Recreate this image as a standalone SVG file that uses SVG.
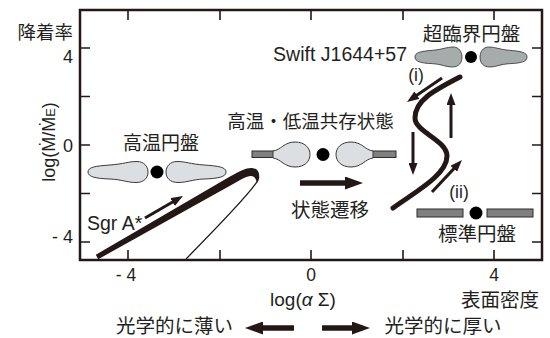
<svg xmlns="http://www.w3.org/2000/svg" xmlns:xlink="http://www.w3.org/1999/xlink" width="550" height="338" viewBox="0 0 550 338">
  <style>
    .frame { fill: none; stroke: #231815; stroke-width: 2.5; }
    .tick { stroke: #231815; stroke-width: 1.6; }
    .lat { font-family: "Liberation Sans", "Noto Sans CJK JP", sans-serif; fill: #231f20; }
    .jp { font-family: "Noto Sans CJK JP", "Liberation Sans", sans-serif; fill: #231f20; }
    .hot { fill: #dcdfe1; stroke: #3a3a3a; stroke-width: 1; }
    .super { fill: #a6abab; stroke: #3a3a3a; stroke-width: 1; }
    .bar { fill: #808080; stroke: #2b2b2b; stroke-width: 1; }
    .bh { fill: #000; }
    .thick { fill: none; stroke: #231815; stroke-width: 5; stroke-linecap: round; }
    .thin { fill: none; stroke: #231815; stroke-width: 1.3; }
    .arr { fill: none; stroke: #231815; stroke-width: 3; marker-end: url(#head); }
    .arrBig { fill: none; stroke: #231815; stroke-width: 5.5; marker-end: url(#headBig); }
  </style>
  <defs>
    <!-- teardrop cloud: tip at x=0, bulb end at x=60 -->
    <path id="tear" d="M0,0 C0,-5 8,-6 22,-7 C36,-8 40,-10.5 49,-10.5 C56,-10.5 60,-5.5 60,0 C60,6 56,10.5 48,10.5 C39,10.5 34,7.5 22,7 C8,6.5 0,5 0,0 Z"/>
    <!-- bulb attached to a thin outer disk: neck at x=0, round end at x=37 -->
    <path id="bulb" d="M0,-3.5 C8,-4.5 11,-12.5 22,-12.5 C32,-12.5 37,-6.5 37,0 C37,6.5 32,12.5 22,12.5 C11,12.5 8,4.5 0,3.5 Z"/>
    <marker id="head" markerUnits="userSpaceOnUse" markerWidth="12" markerHeight="9" refX="5" refY="4.5" orient="auto">
      <path d="M0,0 L12,4.5 L0,9 Z" fill="#231815"/>
    </marker>
    <marker id="headBig" markerUnits="userSpaceOnUse" markerWidth="18" markerHeight="13" refX="4" refY="6.5" orient="auto">
      <path d="M0,0 L18,6.5 L0,13 Z" fill="#231815"/>
    </marker>
  </defs>

  <!-- plot frame and ticks -->
  <g id="axes">
    <rect class="frame" x="80" y="10" width="462" height="250"/>
    <path class="tick" d="M80,48 H90 M80,96.5 H90 M80,145 H90 M80,193.5 H90 M80,242 H90
                          M542,48 H532 M542,96.5 H532 M542,145 H532 M542,193.5 H532 M542,242 H532
                          M128,10 V20 M220,10 V20 M311,10 V20 M403,10 V20 M494,10 V20
                          M128,260 V250 M220,260 V250 M311,260 V250 M403,260 V250 M494,260 V250"/>
    <text class="jp" x="73" y="39" font-size="18.5" text-anchor="end">降着率</text>
    <text class="lat" x="73" y="63" font-size="18" text-anchor="end">4</text>
    <text class="lat" x="73" y="152" font-size="18" text-anchor="end">0</text>
    <text class="lat" x="73" y="243" font-size="18" text-anchor="end">- 4</text>
    <text class="lat" transform="translate(55,142) rotate(-90)" font-size="18" text-anchor="middle">log(Ṁ/Ṁ<tspan font-size="13">E</tspan>)</text>
    <text class="lat" x="126" y="281" font-size="17.5" text-anchor="middle">- 4</text>
    <text class="lat" x="311" y="281" font-size="17.5" text-anchor="middle">0</text>
    <text class="lat" x="494" y="281" font-size="17.5" text-anchor="middle">4</text>
    <text class="lat" x="303" y="306" font-size="19" text-anchor="middle">log(<tspan font-style="italic">α</tspan> Σ)</text>
    <text class="jp" x="500" y="307" font-size="19.5" text-anchor="middle">表面密度</text>
  </g>

  <!-- hot accretion flow -->
  <g id="disk-hot">
    <text class="jp" x="161" y="150" font-size="19" text-anchor="middle">高温円盤</text>
    <use href="#tear" class="hot" transform="translate(88,172)"/>
    <use href="#tear" class="hot" transform="translate(226,172) scale(-1,1)"/>
    <circle class="bh" cx="157" cy="172" r="6.5"/>
  </g>

  <!-- hot and cold coexisting -->
  <g id="disk-coexist">
    <text class="jp" x="310.5" y="128" font-size="18.5" text-anchor="middle">高温・低温共存状態</text>
    <rect class="bar" x="252" y="151" width="22" height="6.5"/>
    <rect class="bar" x="372" y="151" width="24" height="6.5"/>
    <use href="#bulb" class="hot" transform="translate(273,154.5)"/>
    <use href="#bulb" class="hot" transform="translate(373,154.5) scale(-1,1)"/>
    <circle class="bh" cx="323" cy="154.5" r="6.5"/>
  </g>

  <!-- supercritical disk -->
  <g id="disk-super">
    <text class="jp" x="471.5" y="40.5" font-size="19.5" text-anchor="middle">超臨界円盤</text>
    <text class="lat" x="407" y="61" font-size="19.5" text-anchor="end">Swift J1644+57</text>
    <use href="#tear" class="super" vector-effect="non-scaling-stroke" transform="translate(415,57) scale(0.783,0.95)"/>
    <use href="#tear" class="super" vector-effect="non-scaling-stroke" transform="translate(527,57) scale(-0.783,0.95)"/>
    <circle class="bh" cx="471" cy="57" r="6"/>
  </g>

  <!-- standard thin disk -->
  <g id="disk-standard">
    <rect class="bar" x="417" y="209" width="46" height="8"/>
    <rect class="bar" x="487" y="209" width="46" height="8"/>
    <circle class="bh" cx="476" cy="213" r="6.5"/>
    <text class="jp" x="477" y="241" font-size="19.5" text-anchor="middle">標準円盤</text>
  </g>

  <!-- equilibrium curves and transition arrows -->
  <g id="connectors">
    <path d="M95.8,254.8 L230,176.5 C240,171 247,167.5 252,168 C258,168.5 260,173 259,179 L257,183 C256,178 254,175.5 250,176 C245,177 240,180 234,183.5 L98.2,259.2 Z" fill="#231815"/>
    <path class="thin" d="M258,180 Q252,192 186,259"/>
    <path class="thick" d="M460,77 C435,90 415,100 415,118 C415,132 447,140 447,156 C447,175 415,192 393,208"/>
    <path class="arr" d="M145,218 L176.9,199.5"/>
    <path class="arr" d="M442,78 L412.8,98"/>
    <path class="arr" d="M451,138 L451,100"/>
    <path class="arr" d="M413,132 L413,168"/>
    <path class="arr" d="M432,192 L457.2,165.1"/>
    <path class="arrBig" d="M300,183 L349,183"/>
    <path class="arrBig" d="M294,328 L259,328"/>
    <path class="arrBig" d="M322,328 L356,328"/>
  </g>

  <!-- annotations -->
  <g id="labels">
    <text class="lat" x="87" y="230" font-size="19.5">Sgr A*</text>
    <text class="lat" x="416" y="81" font-size="17.5" text-anchor="middle">(i)</text>
    <text class="lat" x="459" y="198" font-size="17.5" text-anchor="middle">(ii)</text>
    <text class="jp" x="330" y="217" font-size="19.5" text-anchor="middle">状態遷移</text>
    <text class="jp" x="174.5" y="333" font-size="19.5" text-anchor="middle">光学的に薄い</text>
    <text class="jp" x="443" y="333" font-size="19.5" text-anchor="middle">光学的に厚い</text>
  </g>
</svg>
